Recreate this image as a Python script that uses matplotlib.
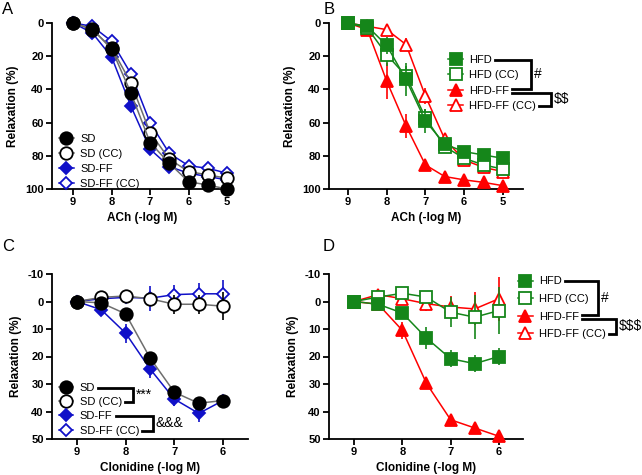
import matplotlib
matplotlib.use("Agg")
import matplotlib.pyplot as plt
from matplotlib.lines import Line2D

plt.rcParams['font.family'] = ['Liberation Sans', 'DejaVu Sans']

#-- Data ---
ach_dose = [9, 8.5, 8, 7.5, 7, 6.5, 6, 5.5, 5]
clon_dose = [9, 8.5, 8, 7.5, 7, 6.5, 6]

# panel A (ACh, SD groups)
a_sd = [0, 3.6, 15.7, 42, 72, 84.5, 95.6, 97.6, 100]
a_sd_cc = [0, 4, 15, 36, 66, 82, 89.5, 91.5, 93.5]
a_sdff = [0, 6, 20.5, 50, 76, 86.5, 90.5, 92.5, 94.5]
a_sdff_cc = [0, 2, 11, 30.5, 60, 78.5, 86, 87.5, 90.5]

# panel B (ACh, HFD groups)
b_hfd = [0, 2, 13.5, 34, 59, 73, 77.5, 79.5, 81.5]
b_hfd_err = [0, 1, 5, 10, 7, 3, 2, 2, 2]
b_hfd_cc = [0, 3, 19, 32, 57, 74.5, 81.5, 85.5, 88]
b_hfd_cc_err = [0, 1, 7, 6, 5, 3, 2, 2, 2]
b_hff = [0, 4, 35, 62, 85.5, 92.5, 94.5, 96, 98]
b_hff_err = [0, 1, 11, 7, 2, 1, 1, 1, 1]
b_hff_cc = [0, 2, 4, 13, 44, 70, 82.5, 87, 89.5]
b_hff_cc_err = [0, 1, 2, 4, 5, 3, 2, 2, 2]

# panel C (Clonidine, SD groups)
c_sd = [0, 0.5, 4.5, 20.5, 33, 37, 36]
c_sd_err = [0, 0.5, 1, 1.5, 1.5, 1.5, 1.5]
c_sd_cc = [0, -1.5, -2, -1, 1, 1, 1.7]
c_sd_cc_err = [0, 1, 1, 2, 3.5, 3.5, 5]
c_sdff = [0, 3, 11.5, 24.5, 35.5, 40.7, 36]
c_sdff_err = [0, 1, 3.5, 3.3, 2.5, 3, 1.5]
c_sdff_cc = [0, -1, -1.5, -1.2, -2.5, -2.8, -2.8]
c_sdff_cc_err = [0, 1, 1, 4.5, 3.5, 4, 5]

# panel D (Clonidine, HFD groups)
d_hfd = [0, 1, 4.2, 13.3, 20.8, 22.6, 20]
d_hfd_err = [0, 1, 1.5, 4, 3, 3, 3]
d_hfd_cc = [0, -1.6, -3, -1.6, 3.9, 5.7, 3.3]
d_hfd_cc_err = [0, 1, 1, 2, 5.5, 8, 8.5]
d_hff = [0, 1, 10.5, 29.8, 43, 46, 49]
d_hff_err = [0, 1, 3, 1, 1, 1, 1]
d_hff_cc = [0, -2.5, -1, 0.8, 2, 2.7, -1]
d_hff_cc_err = [0, 1, 1, 2.5, 4, 6, 8]

labels_sd = ['SD', 'SD (CC)', 'SD-FF', 'SD-FF (CC)']
labels_hfd = ['HFD', 'HFD (CC)', 'HFD-FF', 'HFD-FF (CC)']

BLACK = '#000000'
GRAY = '#6e6e6e'
BLUE = '#1010c8'
GREEN = '#15861a'
RED = '#ff0000'

W, H = 642, 475


def px(x, y):
    """pixel position (from top-left) -> figure fraction"""
    return x / W, 1 - y / H


def make_axes(fig, left, right, top, bottom):
    x0, y0 = px(left, bottom)
    x1, y1 = px(right, top)
    return fig.add_axes([x0, y0, x1 - x0, y1 - y0])


def style_axes(ax, xlabel, xlim, xticks, ylim, yticks):
    ax.set_xlim(*xlim)
    ax.set_ylim(*ylim)
    ax.set_xticks(xticks)
    ax.set_yticks(yticks)
    ax.set_xticklabels([str(t) for t in xticks], fontweight='bold', fontsize=8)
    ax.set_yticklabels([str(t) for t in yticks], fontweight='bold', fontsize=8)
    for s in ['top', 'right']:
        ax.spines[s].set_visible(False)
    for s in ['left', 'bottom']:
        ax.spines[s].set_linewidth(1.3)
    ax.tick_params(width=1.3, length=4, pad=2)
    ax.set_xlabel(xlabel, fontweight='bold', fontsize=8.5, labelpad=3)
    ax.set_ylabel('Relaxation (%)', fontweight='bold', fontsize=8.5, labelpad=4)


MS = {'o': 9, 'D': 6.5, 's': 8.5, '^': 8.5}


def series(ax, x, y, err, color, lcolor, marker, filled, label, z):
    face = color if filled else 'white'
    ax.errorbar(x, y, yerr=err, color=lcolor, ecolor=color, elinewidth=1.2,
                capsize=0, lw=1.1, marker=marker, ms=MS[marker], mfc=face, mec=color,
                mew=1.3, label=label, zorder=z, clip_on=False)


def bracket(fig, leg, i, j, xv, sym, dy_top=0, dy_bot=0, fs=10):
    fig.canvas.draw()
    r = fig.canvas.get_renderer()
    texts = leg.get_texts()
    b1 = texts[i].get_window_extent(r)
    b2 = texts[j].get_window_extent(r)
    # display coords (origin bottom-left)
    ya = (b1.y0 + b1.y1) / 2 + dy_top
    yb = (b2.y0 + b2.y1) / 2 + dy_bot
    xa = b1.x1 + 3
    xb = b2.x1 + 3
    inv = fig.transFigure.inverted()
    pts = inv.transform([(xa, ya), (xv, ya), (xv, yb), (xb, yb)])
    fig.add_artist(Line2D(pts[:, 0], pts[:, 1], color='black', lw=2,
                          transform=fig.transFigure, solid_joinstyle='miter'))
    tx, ty = inv.transform((xv + 3, (ya + yb) / 2))
    fig.text(tx, ty, sym, fontsize=fs, ha='left', va='center', parse_math=False)


def main():
    fig = plt.figure(figsize=(W / 100, H / 100), dpi=100)
    leg_kw = dict(loc='upper left', frameon=False, fontsize=8, handlelength=1.3,
                  handletextpad=0.6, borderpad=0, borderaxespad=0)

    # ---- A
    axA = make_axes(fig, 52, 232, 23, 189)
    series(axA, ach_dose, a_sd, None, BLACK, GRAY, 'o', True, labels_sd[0], 5)
    series(axA, ach_dose, a_sd_cc, None, BLACK, GRAY, 'o', False, labels_sd[1], 4)
    series(axA, ach_dose, a_sdff, None, BLUE, BLUE, 'D', True, labels_sd[2], 3)
    series(axA, ach_dose, a_sdff_cc, None, BLUE, BLUE, 'D', False, labels_sd[3], 2)
    style_axes(axA, 'ACh (-log M)', (9.55, 4.87), [9, 8, 7, 6, 5], (100, 0), [0, 20, 40, 60, 80, 100])
    axA.legend(bbox_to_anchor=(0.04, 0.332), labelspacing=0.45, **leg_kw)

    # ---- B
    axB = make_axes(fig, 329, 523, 23, 189)
    series(axB, ach_dose, b_hfd, b_hfd_err, GREEN, GREEN, 's', True, labels_hfd[0], 5)
    series(axB, ach_dose, b_hfd_cc, b_hfd_cc_err, GREEN, GREEN, 's', False, labels_hfd[1], 4)
    series(axB, ach_dose, b_hff, b_hff_err, RED, RED, '^', True, labels_hfd[2], 3)
    series(axB, ach_dose, b_hff_cc, b_hff_cc_err, RED, RED, '^', False, labels_hfd[3], 2)
    style_axes(axB, 'ACh (-log M)', (9.49, 4.48), [9, 8, 7, 6, 5], (100, 0), [0, 20, 40, 60, 80, 100])
    legB = axB.legend(bbox_to_anchor=(0.615, 0.81), labelspacing=0.5, **leg_kw)

    # ---- C
    axC = make_axes(fig, 52, 248, 274, 439)
    series(axC, clon_dose, c_sd, c_sd_err, BLACK, GRAY, 'o', True, labels_sd[0], 5)
    series(axC, clon_dose, c_sd_cc, c_sd_cc_err, BLACK, GRAY, 'o', False, labels_sd[1], 4)
    series(axC, clon_dose, c_sdff, c_sdff_err, BLUE, BLUE, 'D', True, labels_sd[2], 3)
    series(axC, clon_dose, c_sdff_cc, c_sdff_cc_err, BLUE, BLUE, 'D', False, labels_sd[3], 2)
    style_axes(axC, 'Clonidine (-log M)', (9.51, 5.49), [9, 8, 7, 6], (50, -10), [-10, 0, 10, 20, 30, 40, 50])
    legC = axC.legend(bbox_to_anchor=(0.035, 0.34), labelspacing=0.38, **leg_kw)

    # ---- D
    axD = make_axes(fig, 329, 523, 274, 439)
    series(axD, clon_dose, d_hfd, d_hfd_err, GREEN, GREEN, 's', True, labels_hfd[0], 5)
    series(axD, clon_dose, d_hfd_cc, d_hfd_cc_err, GREEN, GREEN, 's', False, labels_hfd[1], 4)
    series(axD, clon_dose, d_hff, d_hff_err, RED, RED, '^', True, labels_hfd[2], 3)
    series(axD, clon_dose, d_hff_cc, d_hff_cc_err, RED, RED, '^', False, labels_hfd[3], 2)
    style_axes(axD, 'Clonidine (-log M)', (9.52, 5.5), [9, 8, 7, 6], (50, -10), [-10, 0, 10, 20, 30, 40, 50])
    legD = axD.legend(bbox_to_anchor=(0.975, 0.985), labelspacing=0.68, **leg_kw)

    # brackets with significance symbols (x in display px)
    bracket(fig, legB, 0, 2, 531, '#', 0, 2)
    bracket(fig, legB, 2, 3, 551, '$$', -2, 0)
    bracket(fig, legC, 0, 1, 133, '***', 0, 0)
    bracket(fig, legC, 2, 3, 153, '&&&', 0, 0)
    bracket(fig, legD, 0, 2, 598, '#', 0, 2)
    bracket(fig, legD, 2, 3, 616, '$$$', -2, 0)

    for lab, (x, y) in zip('ABCD', [(8, 9), (329, 9), (8, 246), (329, 246)]):
        fx, fy = px(x, y)
        fig.text(fx, fy, lab, fontsize=12, ha='center', va='center')

    fig.savefig('out.png', dpi=100)


if __name__ == "__main__":
    main()
